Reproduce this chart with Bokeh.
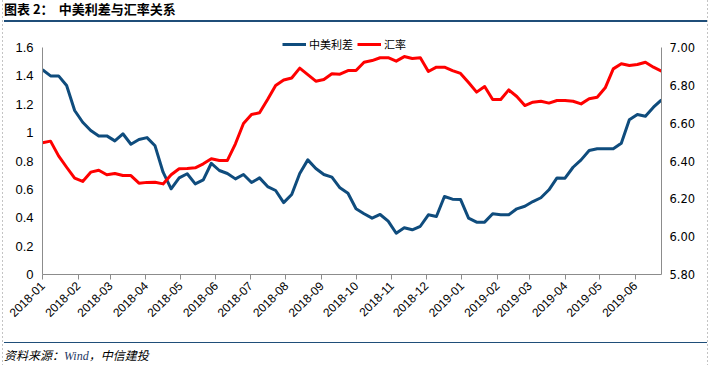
import math
import pandas as pd
from bokeh.plotting import figure
from bokeh.models import Range1d, LinearAxis, FixedTicker, Legend, LegendItem, Div
from bokeh.layouts import column
from bokeh.embed import file_html
from bokeh.resources import INLINE

# ---------------- data ----------------
start_date = "2018-01-01"   # weekly observations
spread = [1.443, 1.400, 1.400, 1.332, 1.156, 1.073, 1.015, 0.977, 0.977, 0.942,
          0.992, 0.918, 0.951, 0.965, 0.907, 0.721, 0.604, 0.681, 0.710, 0.639,
          0.667, 0.784, 0.733, 0.712, 0.674, 0.705, 0.648, 0.681, 0.620, 0.592,
          0.507, 0.564, 0.712, 0.808, 0.747, 0.705, 0.686, 0.611, 0.573, 0.463,
          0.428, 0.397, 0.423, 0.376, 0.291, 0.329, 0.315, 0.340, 0.421, 0.409,
          0.550, 0.531, 0.529, 0.397, 0.369, 0.369, 0.428, 0.421, 0.421, 0.463,
          0.481, 0.514, 0.541, 0.597, 0.681, 0.679, 0.756, 0.808, 0.874, 0.886,
          0.886, 0.886, 0.925, 1.090, 1.128, 1.116, 1.179, 1.231]
fx_rate = [6.496, 6.505, 6.427, 6.367, 6.309, 6.292, 6.341, 6.351, 6.327, 6.334,
           6.323, 6.323, 6.283, 6.287, 6.288, 6.279, 6.327, 6.359, 6.360, 6.364,
           6.385, 6.412, 6.403, 6.403, 6.491, 6.598, 6.646, 6.655, 6.725, 6.799,
           6.828, 6.839, 6.891, 6.857, 6.822, 6.831, 6.861, 6.859, 6.878, 6.878,
           6.922, 6.931, 6.946, 6.946, 6.928, 6.952, 6.942, 6.946, 6.873, 6.896,
           6.896, 6.878, 6.863, 6.815, 6.764, 6.794, 6.725, 6.725, 6.776, 6.741,
           6.693, 6.711, 6.716, 6.706, 6.720, 6.720, 6.716, 6.702, 6.729, 6.737,
           6.787, 6.887, 6.914, 6.905, 6.910, 6.922, 6.896, 6.875]
month_ticks = ["2018-01-01", "2018-02-01", "2018-03-01", "2018-04-01", "2018-05-01",
               "2018-06-01", "2018-07-01", "2018-08-01", "2018-09-01", "2018-10-01",
               "2018-11-01", "2018-12-01", "2019-01-01", "2019-02-01", "2019-03-01",
               "2019-04-01", "2019-05-01", "2019-06-01"]
month_labels = ["2018-01", "2018-02", "2018-03", "2018-04", "2018-05", "2018-06",
                "2018-07", "2018-08", "2018-09", "2018-10", "2018-11", "2018-12",
                "2019-01", "2019-02", "2019-03", "2019-04", "2019-05", "2019-06"]
left_ticks = [0, 0.2, 0.4, 0.6, 0.8, 1, 1.2, 1.4, 1.6]
left_labels = ["0", "0.2", "0.4", "0.6", "0.8", "1", "1.2", "1.4", "1.6"]
right_ticks = [5.8, 6.0, 6.2, 6.4, 6.6, 6.8, 7.0]
right_labels = ["5.80", "6.00", "6.20", "6.40", "6.60", "6.80", "7.00"]
series_names = ["中美利差", "汇率"]
title_prefix = "图表 2："
title_text = "中美利差与汇率关系"
source_text = ["资料来源：", "Wind", "，中信建投"]

# ---------------- styles ----------------
BLUE = "#0F4C7D"
RED = "#FF0000"
AXIS = "#8C8C8C"
NAVY = "#1F4E79"
W = 711

dates = pd.date_range(start_date, periods=len(spread), freq="7D")


def ms(d):
    return float(pd.Timestamp(d).value // 10**6)


# frame extends 10px above the 1.6 / 7.00 level so the legend is not clipped
left_top = left_ticks[-1] + 10 * (left_ticks[-1] - left_ticks[0]) / 227
right_top = right_ticks[-1] + 10 * (right_ticks[-1] - right_ticks[0]) / 227

p = figure(width=W, height=320, x_axis_type="datetime",
           x_range=Range1d(dates[0], dates[-1]), y_range=Range1d(0, left_top),
           output_backend="svg", toolbar_location=None,
           min_border_left=42, min_border_right=50, min_border_top=15,
           min_border_bottom=68, margin=0)
p.outline_line_color = None
p.grid.visible = False
p.background_fill_color = "white"
p.border_fill_alpha = 0

p.extra_y_ranges = {"fx": Range1d(right_ticks[0], right_top)}

r1 = p.line(dates, spread, line_color=BLUE, line_width=3, line_join="round")
r2 = p.line(dates, fx_rate, line_color=RED, line_width=3, line_join="round",
            y_range_name="fx")

# bottom axis
xa = p.xaxis[0]
xa.ticker = FixedTicker(ticks=[ms(d) for d in month_ticks])
xa.major_label_overrides = {ms(d): lab for d, lab in zip(month_ticks, month_labels)}
xa.major_label_orientation = math.pi / 4
xa.axis_line_color = AXIS
xa.major_tick_line_color = AXIS
xa.major_tick_in = 0
xa.major_tick_out = 5
xa.minor_tick_line_color = None
xa.major_label_text_font = "Liberation Sans"
xa.major_label_text_font_size = "12px"
xa.major_label_text_color = "black"
xa.major_label_standoff = 4

# left axis
ya = p.yaxis[0]
ya.ticker = FixedTicker(ticks=left_ticks)
ya.bounds = (left_ticks[0], left_ticks[-1])
ya.major_label_overrides = {float(t): lab for t, lab in zip(left_ticks, left_labels)}
ya.axis_line_color = AXIS
ya.major_tick_line_color = None
ya.major_tick_in = 0
ya.major_tick_out = 0
ya.minor_tick_line_color = None
ya.major_label_text_font = "Liberation Sans"
ya.major_label_text_font_size = "13px"
ya.major_label_text_color = "black"
ya.major_label_standoff = 9

# right axis
ra = LinearAxis(y_range_name="fx", ticker=FixedTicker(ticks=right_ticks),
                bounds=(right_ticks[0], right_ticks[-1]))
ra.major_label_overrides = {float(t): lab for t, lab in zip(right_ticks, right_labels)}
ra.axis_line_color = AXIS
ra.major_tick_line_color = None
ra.major_tick_in = 0
ra.major_tick_out = 0
ra.minor_tick_line_color = None
ra.major_label_text_font = "DejaVu Sans"
ra.major_label_text_font_size = "11.5px"
ra.major_label_text_color = "black"
ra.major_label_standoff = 8
p.add_layout(ra, "right")

legend = Legend(items=[LegendItem(label=series_names[0], renderers=[r1]),
                       LegendItem(label=series_names[1], renderers=[r2])],
                orientation="horizontal", location=(240, 222),
                glyph_width=24, glyph_height=14, label_standoff=3, spacing=4,
                padding=0, margin=0, border_line_color=None,
                background_fill_alpha=0,
                label_text_font="Noto Sans CJK SC", label_text_font_size="11px",
                label_text_color="black", label_height=14)
p.add_layout(legend)

title_html = (
    '<div style="padding-left:4px;font-family:\'Noto Sans CJK SC\';font-weight:bold;'
    'font-size:13px;line-height:18px;color:#000;white-space:nowrap;">%s'
    '<span style="margin-left:5px">%s</span></div>' % (title_prefix, title_text)
)
title_div = Div(text=title_html, width=W, height=20, margin=0)
title_rule = Div(text="", width=703, height=2, margin=(0, 0, 0, 4),
                 styles={"background-color": NAVY})

foot_rule = Div(text="", width=703, height=1, margin=(0, 0, 0, 4),
                styles={"background-color": NAVY})
foot_html = (
    '<div style="padding-top:5px;padding-left:4px;font-family:\'Noto Sans CJK SC\';'
    'font-style:italic;font-size:12px;line-height:13px;color:#000;white-space:nowrap;">'
    '%s<span style="font-family:\'Liberation Serif\';color:#1F3864;">%s</span>%s</div>'
    % (source_text[0], source_text[1], source_text[2])
)
foot_div = Div(text=foot_html, width=W, height=22, margin=0)

dash = "repeating-linear-gradient(to bottom, #C4C4C4 0px, #C4C4C4 2px, transparent 2px, transparent 4px)"
layout = column(title_div, title_rule, p, foot_rule, foot_div, spacing=0,
                styles={"background-color": "white",
                        "background-image": dash + ", " + dash,
                        "background-size": "1px 100%, 1px 100%",
                        "background-position": "2px 0px, 707px 0px",
                        "background-repeat": "no-repeat, no-repeat"})

open("out.html", "w").write(file_html(layout, INLINE))
